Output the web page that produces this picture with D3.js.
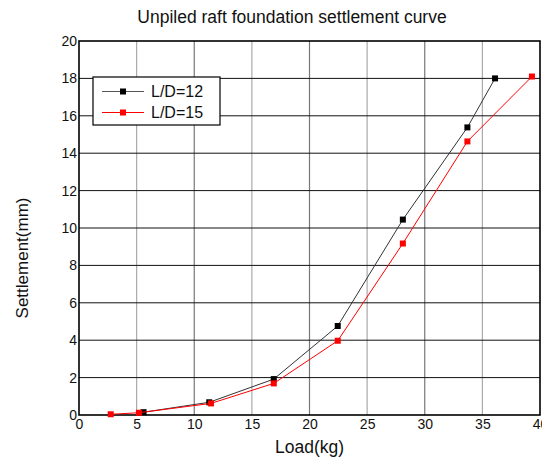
<!DOCTYPE html>
<html>
<head>
<meta charset="utf-8">
<script src="https://cdn.jsdelivr.net/npm/d3@7"></script>
<style>
  body { margin: 0; background: #fff; }
  svg { display: block; font-family: "Liberation Sans", Arial, sans-serif; }
</style>
</head>
<body>
<script>
// settlement vs load for two L/D ratios
var loadLD12 = [5.6, 11.3, 16.9, 22.45, 28.1, 33.7, 36.1];
var settleLD12 = [0.15, 0.68, 1.92, 4.76, 10.45, 15.38, 18.0];
var loadLD15 = [2.75, 5.2, 11.45, 16.9, 22.45, 28.1, 33.7, 39.3];
var settleLD15 = [0.04, 0.12, 0.62, 1.69, 3.97, 9.17, 14.63, 18.1];
var seriesNames = ["L/D=12", "L/D=15"];
var seriesColors = ["#000000", "#ff0000"];
var xTicks = [0, 5, 10, 15, 20, 25, 30, 35, 40];
var yTicks = [0, 2, 4, 6, 8, 10, 12, 14, 16, 18, 20];

var margin = { top: 41, right: 2, bottom: 44, left: 79 };
var width = 542 - margin.left - margin.right,
    height = 459 - margin.top - margin.bottom;

var svg = d3.select("body").append("svg")
    .attr("width", 542)
    .attr("height", 459);

var g = svg.append("g")
    .attr("transform", "translate(" + margin.left + "," + margin.top + ")");

var xScale = d3.scaleLinear().domain([0, 40]).range([0, width]);
var yScale = d3.scaleLinear().domain([0, 20]).range([height, 0]);

// grid
g.append("g").selectAll("line")
    .data(xTicks.slice(1, -1))
    .enter().append("line")
    .attr("x1", function (d) { return xScale(d); })
    .attr("x2", function (d) { return xScale(d); })
    .attr("y1", 0).attr("y2", height)
    .attr("stroke", function (d) { return d % 10 == 0 ? "#777" : "#aaa"; })
    .attr("stroke-width", 1.2);

g.append("g").selectAll("line")
    .data(yTicks.slice(1, -1))
    .enter().append("line")
    .attr("x1", 0).attr("x2", width)
    .attr("y1", function (d) { return yScale(d); })
    .attr("y2", function (d) { return yScale(d); })
    .attr("stroke", "#111")
    .attr("stroke-width", 1);

// axes
var xAxis = d3.axisBottom(xScale).tickValues(xTicks).tickSize(0).tickPadding(4);
var yAxis = d3.axisLeft(yScale).tickValues(yTicks).tickSize(0).tickPadding(2);

var xAxisGroup = g.append("g")
    .attr("transform", "translate(0," + height + ")")
    .call(xAxis);
var yAxisGroup = g.append("g").call(yAxis);

[xAxisGroup, yAxisGroup].forEach(function (ax) {
    ax.select(".domain").remove();
    ax.selectAll("text")
        .attr("font-family", "Liberation Sans, Arial, sans-serif")
        .attr("font-size", "14px")
        .attr("fill", "#111");
});
yAxisGroup.selectAll("text").attr("dy", "0.32em");

// frame
g.append("rect")
    .attr("x", 0).attr("y", 0)
    .attr("width", width).attr("height", height)
    .attr("fill", "none")
    .attr("stroke", "#000")
    .attr("stroke-width", 1.6);

// curves
var series = [
    loadLD12.map(function (x, i) { return { x: x, y: settleLD12[i] }; }),
    loadLD15.map(function (x, i) { return { x: x, y: settleLD15[i] }; })
];

var line = d3.line()
    .x(function (d) { return xScale(d.x); })
    .y(function (d) { return yScale(d.y); });

series.forEach(function (pts, s) {
    g.append("path")
        .datum(pts)
        .attr("fill", "none")
        .attr("stroke", s == 0 ? "#333" : seriesColors[s])
        .attr("stroke-width", 1)
        .attr("d", line);

    g.selectAll(".pt" + s)
        .data(pts)
        .enter().append("rect")
        .attr("class", "pt" + s)
        .attr("x", function (d) { return xScale(d.x) - 3; })
        .attr("y", function (d) { return yScale(d.y) - 3; })
        .attr("width", 6).attr("height", 6)
        .attr("fill", seriesColors[s]);
});

// legend
var legend = g.append("g").attr("transform", "translate(14,36)");
legend.append("rect")
    .attr("width", 127).attr("height", 48)
    .attr("fill", "#fff")
    .attr("stroke", "#000")
    .attr("stroke-width", 1.2);

seriesNames.forEach(function (name, s) {
    var ly = 14.5 + s * 21;
    legend.append("line")
        .attr("x1", 9).attr("x2", 51)
        .attr("y1", ly).attr("y2", ly)
        .attr("stroke", s == 0 ? "#555" : seriesColors[s])
        .attr("stroke-width", 1);
    legend.append("rect")
        .attr("x", 27).attr("y", ly - 3)
        .attr("width", 6).attr("height", 6)
        .attr("fill", seriesColors[s]);
    legend.append("text")
        .attr("x", 58).attr("y", ly)
        .attr("dy", "0.36em")
        .attr("font-size", "16px")
        .attr("fill", "#111")
        .text(name);
});

// titles
svg.append("text")
    .attr("x", 292).attr("y", 23)
    .attr("text-anchor", "middle")
    .attr("font-size", "17.5px")
    .attr("fill", "#111")
    .text("Unpiled raft foundation settlement curve");

svg.append("text")
    .attr("x", margin.left + width / 2).attr("y", 453)
    .attr("text-anchor", "middle")
    .attr("font-size", "17.5px")
    .attr("fill", "#111")
    .text("Load(kg)");

svg.append("text")
    .attr("transform", "translate(28,258) rotate(-90)")
    .attr("text-anchor", "middle")
    .attr("font-size", "17px")
    .attr("fill", "#111")
    .text("Settlement(mm)");
</script>
</body>
</html>
